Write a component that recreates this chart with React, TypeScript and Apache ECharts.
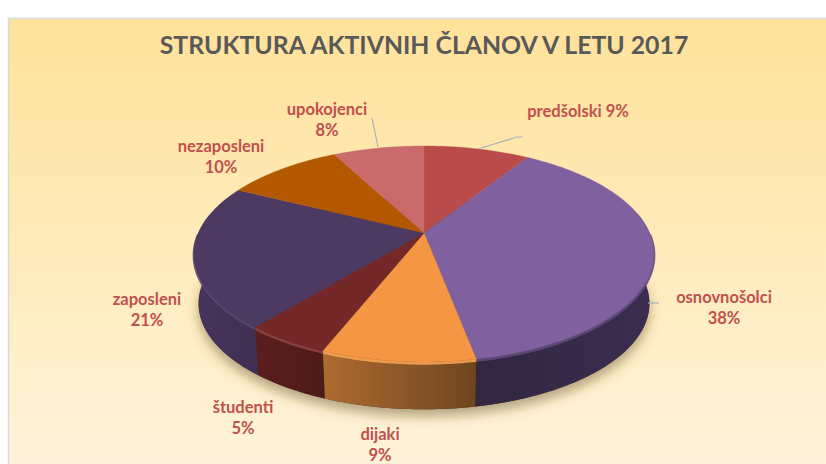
import React, { useEffect, useRef } from "react";
import * as echarts from "echarts";

const titleText = "STRUKTURA AKTIVNIH ČLANOV V LETU 2017";
const categories = ["predšolski", "osnovnošolci", "dijaki", "študenti", "zaposleni", "nezaposleni", "upokojenci"];
const values = [9, 38, 9, 5, 21.4, 9.9, 7.7];

const topColors = ["#b94c4a", "#7f619f", "#f49643", "#752828", "#4d3a62", "#b35800", "#c96b6b"];
const wallLeft = ["#8a3836", "#3b2d50", "#ad6b30", "#5b1e1e", "#45345c", "#7f4000", "#8f4c4c"];
const wallRight = ["#8a3836", "#312741", "#6f451f", "#4f1a1a", "#3f2f52", "#7f4000", "#8f4c4c"];
const rimColors = ["#b94c4a", "#5f4a78", "#f5a253", "#8c4343", "#5a4572", "#b35800", "#c96b6b"];

// label placement (centre of the text block, one line or two) and leader lines
const labelAnchors: number[][] = [[578, 111], [724, 307], [380, 444], [243, 417], [147, 309], [221, 156], [327, 119]];
const singleLine = [true, false, false, false, false, false, false];
const leaders: (number[][] | null)[] = [
  [[478, 149], [517, 137], [523, 137]],
  [[648, 303], [659, 303]],
  null,
  null,
  null,
  null,
  [[372, 118], [378, 147]],
];

// projective disk geometry
const APEX_X = 424, APEX_Y = 233, RX = 225.6, RY = 103.9, PERSP = 0.194;
const EDGE_L = 78.8, EDGE_R = 281.2;
const BEVEL_L = 90, BEVEL_R = 270;

const total = values.reduce((a, b) => a + b, 0);
const starts: number[] = [];
values.reduce((acc, v, i) => { starts[i] = acc; return acc + v; }, 0);

function rimPoint(deg: number, lower = false): number[] {
  const t = (deg * Math.PI) / 180;
  const u = Math.sin(t), v = -Math.cos(t);
  const d = 1 - PERSP * v;
  const x = (RX * u) / d, y = (RY * v) / d;
  return lower ? [APEX_X + 0.98 * x, APEX_Y + 50 + 0.98 * y] : [APEX_X + x, APEX_Y + y];
}
function arc(a: number, b: number, lower = false, dy = 0): number[][] {
  const pts: number[][] = [];
  const n = Math.max(2, Math.ceil(Math.abs(b - a)));
  for (let i = 0; i <= n; i++) {
    const p = rimPoint(a + ((b - a) * i) / n, lower);
    pts.push([p[0], p[1] + dy]);
  }
  return pts;
}
function angles(i: number): number[] {
  return [(starts[i] / total) * 360, ((starts[i] + values[i]) / total) * 360];
}

const renderShadow = () => ({
  type: "polygon",
  shape: { points: arc(0, 360, true) },
  style: { fill: "#5a4a30", shadowBlur: 12, shadowOffsetY: 7, shadowColor: "rgba(90,70,30,0.45)" },
});

const renderWall = (params: any) => {
  const i = params.dataIndex;
  const [a0, b0] = angles(i);
  const a = Math.max(a0, EDGE_L), b = Math.min(b0, EDGE_R);
  if (b <= a) return { type: "group", children: [] };
  const top = arc(a, b);
  const low = arc(a, b, true).reverse();
  const children: any[] = [
    {
      type: "polygon",
      shape: { points: top.concat(low) },
      style: {
        fill: new echarts.graphic.LinearGradient(0, 0, 1, 0, [
          { offset: 0, color: b < 190 ? wallRight[i] : wallLeft[i] },
          { offset: 1, color: b < 190 ? wallLeft[i] : wallRight[i] },
        ].map((s, k) => (i === 2 ? { offset: k, color: k === 0 ? wallLeft[i] : wallRight[i] } : s))),
        stroke: "rgba(0,0,0,0.10)",
        lineWidth: 0.5,
      },
    },
  ];
  const ba = Math.max(a0, BEVEL_L), bb = Math.min(b0, BEVEL_R);
  if (bb > ba) {
    children.push({
      type: "polyline",
      shape: { points: arc(ba, bb, false, 1.4) },
      style: { fill: "none", stroke: rimColors[i], lineWidth: 2.8, opacity: 0.9 },
    });
  }
  return { type: "group", children };
};

const renderTop = (params: any) => {
  const i = params.dataIndex;
  const [a, b] = angles(i);
  const pts = [[APEX_X, APEX_Y] as number[]].concat(arc(a, b));
  return {
    type: "polygon",
    shape: { points: pts },
    style: { fill: topColors[i], stroke: topColors[i], lineWidth: 0.4 },
  };
};

const renderLabel = (params: any, api: any) => {
  const i = params.dataIndex;
  const children: any[] = [];
  const line = leaders[i];
  if (line) {
    children.push({
      type: "polyline",
      shape: { points: line },
      style: { fill: "none", stroke: "#a6b1bf", lineWidth: 1.2 },
    });
  }
  const name = categories[i];
  const pct = `${Math.round((api.value(0) / total) * 100)}%`;
  children.push({
    type: "text",
    x: labelAnchors[i][0],
    y: labelAnchors[i][1],
    style: {
      text: singleLine[i] ? `${name} ${pct}` : `${name}\n${pct}`,
      fill: "#c0504d",
      font: 'bold 16.5px Lato, "Noto Sans", sans-serif',
      lineHeight: 21,
      align: "center",
      verticalAlign: "middle",
    },
  });
  return { type: "group", children };
};

export default function App() {
  const ref = useRef<HTMLDivElement>(null);
  useEffect(() => {
    document.body.style.margin = "0";
    const chart = echarts.init(ref.current!, null, { renderer: "svg" });
    const rows = values.map((v) => [v]);
    chart.setOption({
      animation: false,
      backgroundColor: "#ffffff",
      title: {
        text: titleText,
        left: 419,
        top: 27,
        textAlign: "center",
        textStyle: { color: "#595959", fontFamily: 'Lato, "Noto Sans", sans-serif', fontWeight: "bold", fontSize: 24.8 },
      },
      graphic: [
        {
          type: "rect",
          z: -10,
          silent: true,
          shape: { x: 8.5, y: 18.5, width: 830, height: 460 },
          style: {
            fill: new echarts.graphic.LinearGradient(0, 0, 0, 1, [
              { offset: 0, color: "#ffe29a" },
              { offset: 0.4, color: "#ffe9b4" },
              { offset: 1, color: "#fef4dc" },
            ]),
            stroke: "#d9d9d9",
            lineWidth: 1.5,
          },
        },
      ],
      series: [
        { type: "custom", coordinateSystem: "none", z: 1, silent: true, data: [[1]], renderItem: renderShadow },
        { type: "custom", coordinateSystem: "none", z: 2, silent: true, data: rows, renderItem: renderWall },
        { type: "custom", coordinateSystem: "none", z: 3, silent: true, data: rows, renderItem: renderTop },
        { type: "custom", coordinateSystem: "none", z: 4, silent: true, data: rows, renderItem: renderLabel },
      ],
    });
    return () => chart.dispose();
  }, []);
  return <div ref={ref} style={{ width: 826, height: 464 }} />;
}
